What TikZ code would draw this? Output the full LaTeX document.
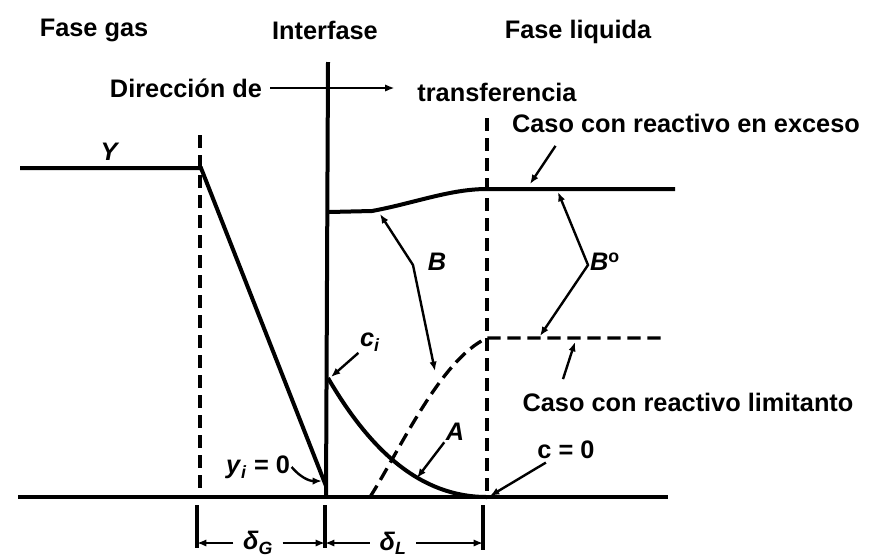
\documentclass[tikz,border=0pt]{standalone}
\usepackage{fontspec}
\setmainfont{Liberation Sans}
\usetikzlibrary{positioning,arrows.meta,calc}

\begin{document}
\begin{tikzpicture}[x=0.75pt, y=-0.75pt,
  font=\fontsize{19}{22}\selectfont\bfseries,
  prof/.style={line width=3pt},
  guide/.style={line width=2.5pt, dash pattern=on 10pt off 5pt},
  lbl/.style={inner sep=1pt},
  ptr/.style={line width=1.8pt, -{Latex[length=7pt,width=5.5pt]}},
  dptr/.style={line width=1.8pt, {Latex[length=7pt,width=5.5pt]}-{Latex[length=7pt,width=5.5pt]}},
  tick/.style={line width=2.5pt},
]
\useasboundingbox (0,0) rectangle (870,558);
% ---------- headings ----------
\node[lbl] (gas) at (94,30) {Fase gas};
\node[lbl] (intf) at (325,30) {Interfase};
\node[lbl] (liq) at (578,32) {Fase liquida};
\node[lbl] (dir) at (186,88) {Dirección de};
\node[lbl] (trans) at (497,92) {transferencia};
\draw[ptr, shorten <=5pt, shorten >=16pt] (dir.east) -- (dir.east -| trans.west);
% ---------- frame lines ----------
\draw[prof] (328,62) -- (326,497);
\draw[guide] (200,135) -- (200,497);
\draw[guide] (487,118) -- (487,497);
\draw[prof] (18,497) -- (668,497);
% ---------- gas profile ----------
\coordinate (ytop) at (201,168);
\coordinate (yi) at (326,486);
\draw[prof] (20,168) -- (ytop) -- (yi);
\node[lbl] (Y) at (110,152) {\textit{Y}};
% ---------- liquid profiles ----------
\draw[prof] (329,212) -- (372,211) .. controls (415,203) and (450,189) .. (487,189) -- (675,189);
\draw[prof] (328,378) .. controls (370,450) and (420,497) .. (487,497);
\draw[guide] (370,497) .. controls (400,450) and (440,360) .. (487,338) -- (665,338);
% ---------- labels ----------
\node[lbl] (exc) at (686,123) {Caso con reactivo en exceso};
\coordinate (excP) at (530,184);
\draw[ptr] ($(exc.south west)+(45,12)$) -- (excP);
\node[lbl] (lim) at (688,402) {Caso con reactivo limitanto};
\coordinate (limP) at (575,342);
\draw[ptr] ($(lim.north west)+(42,-12)$) -- (limP);
\node[lbl] (B) at (437,262) {\textit{B}};
\coordinate (bU) at (380,214); \coordinate (bM) at (413,265); \coordinate (bL) at (435,371);
\draw[dptr] (bU) -- (bM) -- (bL);
\node[lbl] (Bo) at (605,262) {\textit{B}\textsuperscript{o}};
\coordinate (boU) at (558,192); \coordinate (boM) at (588,265); \coordinate (boL) at (540,336);
\draw[dptr] (boU) -- (boM) -- (boL);
\node[lbl] (ci) at (370,342) {\textit{c}\textsubscript{\textit{i}}};
\coordinate (ciP) at (331,377);
\draw[ptr] (ci.south west) -- (ciP);
\node[lbl] (yl) at (258,467) {\textit{y}\textsubscript{\textit{i}} = 0};
\coordinate (yiP) at (322,481);
\draw[ptr] (yl.east) to[bend right=25] (yiP);
\node[lbl] (A) at (455,432) {\textit{A}};
\coordinate (aP) at (417,478);
\draw[ptr] (A.south west) -- (aP);
\node[lbl] (c0) at (566,450) {c = 0};
\coordinate (c0P) at (490,496);
\draw[ptr] ($(c0.south west)+(10,2)$) -- (c0P);
% ---------- film thicknesses ----------
\coordinate (t1) at (197,543); \coordinate (t2) at (325,543); \coordinate (t3) at (483,543);
\draw[tick] (197,505) -- (197,548);
\draw[tick] (325,505) -- (325,548);
\draw[tick] (483,505) -- (483,550);
\node[lbl] (dG) at (258,543) {\textit{δ}\textsubscript{\textit{G}}};
\node[lbl] (dL) at (393,543) {\textit{δ}\textsubscript{\textit{L}}};
\draw[ptr, shorten <=6pt] (dG.west) -- (t1);
\draw[ptr, shorten <=6pt] (dG.east) -- (t2);
\draw[ptr, shorten <=6pt] (dL.west) -- (t2);
\draw[ptr, shorten <=6pt] (dL.east) -- (t3);
\end{tikzpicture}
\end{document}
